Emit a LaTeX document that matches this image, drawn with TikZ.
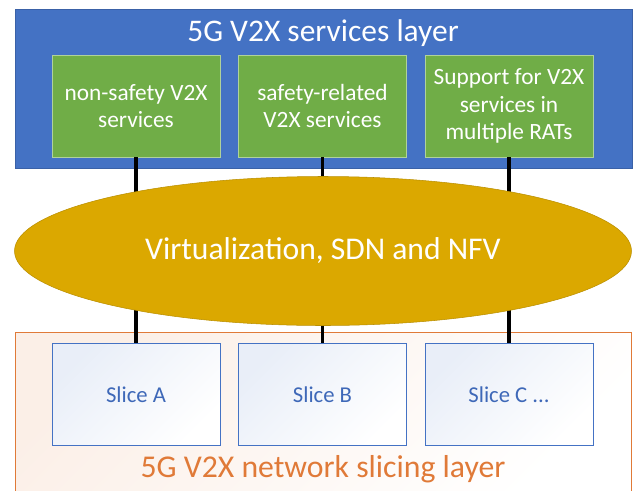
\documentclass[tikz,border=0pt]{standalone}
\usepackage{fontspec}
\setmainfont{Carlito}
\usetikzlibrary{shapes.geometric}

\definecolor{layerblue}{HTML}{4472C4}
\definecolor{servgreen}{HTML}{70AD47}
\definecolor{virtgold}{HTML}{DBA800}
\definecolor{sliceorange}{HTML}{E07A38}
\definecolor{slicetext}{HTML}{3E68B8}

\begin{document}
\begin{tikzpicture}[x=0.75pt,y=-0.75pt,
    servbox/.style={draw=servgreen!55!white, fill=servgreen, text=white, align=center,
      minimum width=126pt, minimum height=76.5pt, font=\fontsize{17.5}{20.6}\selectfont},
    slicebox/.style={draw=layerblue, line width=0.6pt, top color=layerblue!12!white,
      bottom color=white, shading angle=45, text=slicetext,
      minimum width=126pt, minimum height=77pt, font=\fontsize{17}{20}\selectfont},
    link/.style={line width=2.3pt, black}]
    \useasboundingbox (0,0) rectangle (633,490);

    % services layer
    \draw[fill=layerblue, draw=layerblue!85!black] (15,9) rectangle (632,168);
    \node[text=white, font=\fontsize{23.6}{28}\selectfont] (srvtitle) at (323,33) {5G V2X services layer};
    \node[servbox] (nonsafe) at (136,106) {non-safety V2X\\services};
    \node[servbox] (safe) at (322.5,106) {safety-related\\V2X services};
    \node[servbox] (multirat) at (509,106) {Support for V2X\\services in\\multiple RATs};

    % slicing layer
    \draw[draw=sliceorange, top color=sliceorange!12!white, bottom color=white, shading angle=45]
      (15,332) rectangle (631,496);
    \draw[draw=sliceorange] (15,332) rectangle (631,496);
    \node[text=sliceorange, font=\fontsize{23.8}{28}\selectfont] (slctitle) at (323,469) {5G V2X network slicing layer};
    \node[slicebox] (sliceA) at (136,394.5) {Slice A};
    \node[slicebox] (sliceB) at (322.5,394.5) {Slice B};
    \node[slicebox] (sliceC) at (509,394.5) {Slice C ...};

    \draw[link] (nonsafe.south) -- (sliceA.north);
    \draw[link] (safe.south) -- (sliceB.north);
    \draw[link] (multirat.south) -- (sliceC.north);

    \node[ellipse, draw=virtgold!85!black, fill=virtgold, inner sep=0pt, text=white,
      minimum width=462.75pt, minimum height=111.75pt, font=\fontsize{23.7}{28}\selectfont]
      (virt) at (323,251) {Virtualization, SDN and NFV};
\end{tikzpicture}
\end{document}
